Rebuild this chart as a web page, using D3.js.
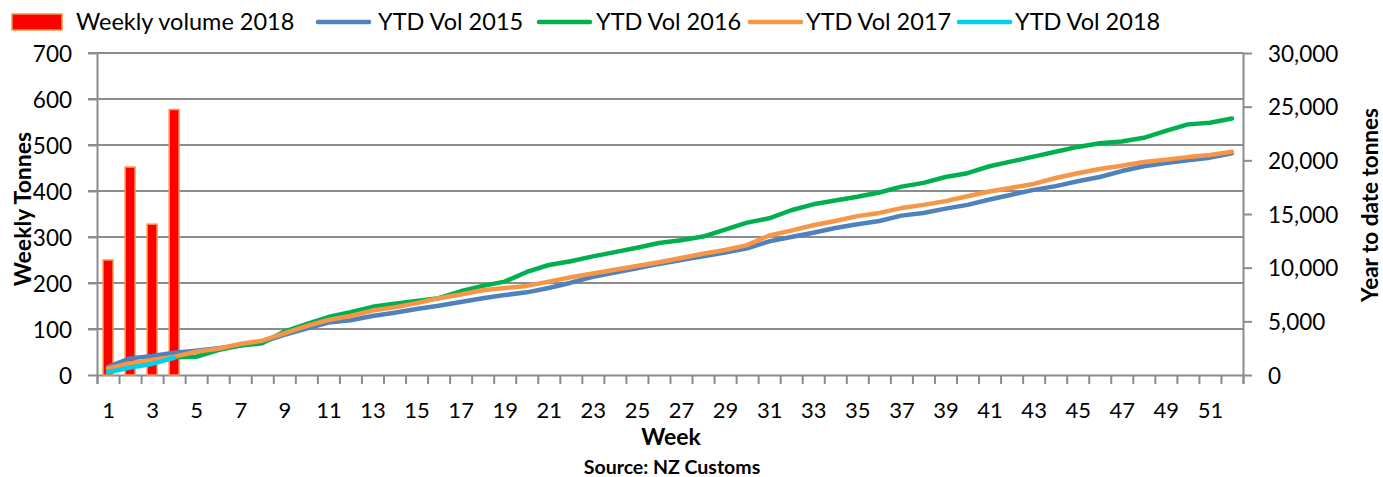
<!DOCTYPE html>
<html>
<head>
<meta charset="utf-8">
<script src="https://cdn.jsdelivr.net/npm/d3@7"></script>
<style>
  html, body { margin: 0; padding: 0; background: #fff; }
  svg { display: block; }
  text { font-family: Lato, "Open Sans", sans-serif; fill: #000; }
</style>
</head>
<body>
<svg id="chart" width="1383" height="477"></svg>
<script>
// ---- data ----
const weeks = [1,2,3,4,5,6,7,8,9,10,11,12,13,14,15,16,17,18,19,20,21,22,23,24,25,26,
  27,28,29,30,31,32,33,34,35,36,37,38,39,40,41,42,43,44,45,46,47,48,49,50,51,52];
const xTickLabels = [1,3,5,7,9,11,13,15,17,19,21,23,25,27,29,31,33,35,37,39,41,43,45,47,49,51];
const leftTicks = [0,100,200,300,400,500,600,700];
const rightTicks = [0,5000,10000,15000,20000,25000,30000];

const weekly2018 = [250, 452, 328, 577];
const ytd2015 = [770,1550,1770,2080,2270,2500,2750,3100,3730,4320,4880,5100,5500,5800,6150,6450,
  6800,7150,7450,7700,8100,8600,9150,9550,9950,10350,10700,11050,11400,11800,12450,12850,
  13250,13700,14050,14350,14850,15100,15500,15850,16350,16800,17250,17600,18050,18450,19000,
  19450,19750,20000,20250,20650];
const ytd2016 = [500,850,1250,1650,1700,2330,2750,2950,4050,4750,5400,5850,6350,6650,6900,7150,
  7800,8300,8700,9600,10250,10600,11050,11450,11850,12300,12550,12900,13550,14200,14600,15350,
  15900,16250,16600,17000,17550,17900,18450,18800,19450,19900,20350,20800,21250,21600,21750,
  22100,22750,23350,23500,23900];
const ytd2017 = [620,1090,1400,1710,2170,2450,2890,3200,3880,4560,5120,5500,6000,6300,6700,7150,
  7500,7900,8100,8300,8700,9100,9450,9800,10150,10500,10900,11300,11650,12100,13000,13450,
  13950,14350,14800,15100,15550,15850,16200,16650,17100,17450,17800,18350,18800,19200,19500,
  19850,20050,20300,20500,20800];
const ytd2018 = [250, 702, 1030, 1607];

const seriesNames = ["Weekly volume 2018","YTD Vol 2015","YTD Vol 2016","YTD Vol 2017","YTD Vol 2018"];
const seriesColors = ["#FF0000","#4F81BD","#00B050","#F79646","#00D0E8"];

// ---- layout ----
const plot = {left: 97, right: 1243, top: 53, bottom: 375};
const gridColor = "#8C8C8C";
const svg = d3.select("#chart");

const xBand = d3.scaleBand().domain(weeks).range([plot.left, plot.right])
  .paddingInner(0.55).paddingOuter(0.275);
const xPt = d3.scalePoint().domain(weeks).range([plot.left, plot.right]).padding(0.5);
const xEdge = d3.scaleLinear().domain([0, weeks.length]).range([plot.left, plot.right]);
const yL = d3.scaleLinear().domain([0, 700]).range([plot.bottom, plot.top]);
const yR = d3.scaleLinear().domain([0, 30000]).range([plot.bottom, plot.top]);

// gridlines
svg.append("g").selectAll("line").data(leftTicks.filter(d => d > 0)).join("line")
  .attr("x1", plot.left - 9).attr("x2", plot.right)
  .attr("y1", d => yL(d)).attr("y2", d => yL(d))
  .attr("stroke", gridColor).attr("stroke-width", 2);

// left axis
const gL = svg.append("g").attr("transform", `translate(${plot.left},0)`)
  .call(d3.axisLeft(yL).tickValues(leftTicks).tickSize(9).tickPadding(16).tickSizeOuter(0));
gL.select(".domain").attr("stroke", gridColor).attr("stroke-width", 2);
gL.selectAll(".tick line").attr("stroke", gridColor).attr("stroke-width", 2);
gL.selectAll("text").style("font-size", "22.5px").attr("dy", "0.36em");

// right axis
const gR = svg.append("g").attr("transform", `translate(${plot.right},0)`)
  .call(d3.axisRight(yR).tickValues(rightTicks).tickSize(9).tickPadding(16).tickSizeOuter(0)
    .tickFormat(d3.format(",")));
gR.select(".domain").attr("stroke", gridColor).attr("stroke-width", 2);
gR.selectAll(".tick line").attr("stroke", gridColor).attr("stroke-width", 2);
gR.selectAll("text").style("font-size", "22.5px").attr("dy", "0.36em");

// x axis: boundary ticks
const gXt = svg.append("g").attr("transform", `translate(0,${plot.bottom})`)
  .call(d3.axisBottom(xEdge).tickValues(d3.range(0, weeks.length + 1)).tickSize(9).tickFormat(""));
gXt.select(".domain").attr("stroke", gridColor).attr("stroke-width", 2);
gXt.selectAll(".tick line").attr("stroke", gridColor).attr("stroke-width", 2);

// x axis labels
const gX = svg.append("g").attr("transform", `translate(0,${plot.bottom})`)
  .call(d3.axisBottom(xPt).tickValues(xTickLabels).tickSize(0).tickPadding(27));
gX.select(".domain").remove();
gX.selectAll("text").style("font-size", "22px");

// bars
svg.append("g").selectAll("rect").data(weekly2018).join("rect")
  .attr("x", (d, i) => xBand(weeks[i]))
  .attr("width", xBand.bandwidth())
  .attr("y", d => yL(d))
  .attr("height", d => yL(0) - yL(d))
  .attr("fill", "#FF0000").attr("stroke", "#F79646").attr("stroke-width", 1.5);

// lines
const lineGen = d3.line().x((d, i) => xPt(weeks[i])).y(d => yR(d));
const lineSeries = [ytd2015, ytd2016, ytd2017, ytd2018];
svg.append("g").selectAll("path").data(lineSeries).join("path")
  .attr("d", d => lineGen(d))
  .attr("fill", "none")
  .attr("stroke", (d, i) => seriesColors[i + 1])
  .attr("stroke-width", 4.5)
  .attr("stroke-linejoin", "round").attr("stroke-linecap", "round");

// axis titles
svg.append("text").attr("transform", "translate(31,209) rotate(-90)")
  .attr("text-anchor", "middle").style("font-size", "23px").style("font-weight", "bold")
  .text("Weekly Tonnes");
svg.append("text").attr("transform", "translate(1378,205) rotate(-90)")
  .attr("text-anchor", "middle").style("font-size", "22.5px").style("font-weight", "bold")
  .text("Year to date tonnes");
svg.append("text").attr("x", 671).attr("y", 445)
  .attr("text-anchor", "middle").style("font-size", "23px").style("font-weight", "bold")
  .text("Week");
svg.append("text").attr("x", 672).attr("y", 474)
  .attr("text-anchor", "middle").style("font-size", "19.5px").style("font-weight", "bold")
  .text("Source: NZ Customs");

// legend
const legendSwatchX = [12, 316, 537, 748, 957];
const legendTextX = [76, 378, 596, 806, 1015];
const leg = svg.append("g");
seriesNames.forEach((name, i) => {
  const x0 = legendSwatchX[i];
  if (i === 0) {
    leg.append("rect").attr("x", x0).attr("y", 14).attr("width", 50).attr("height", 16)
      .attr("fill", "#FF0000").attr("stroke", "#F79646").attr("stroke-width", 1.5);
  } else {
    leg.append("line").attr("x1", x0 + 2).attr("x2", x0 + 53).attr("y1", 22).attr("y2", 22)
      .attr("stroke", seriesColors[i]).attr("stroke-width", 4.5).attr("stroke-linecap", "round");
  }
  leg.append("text").attr("x", legendTextX[i]).attr("y", 30).style("font-size", "23.5px").text(name);
});
</script>
</body>
</html>
